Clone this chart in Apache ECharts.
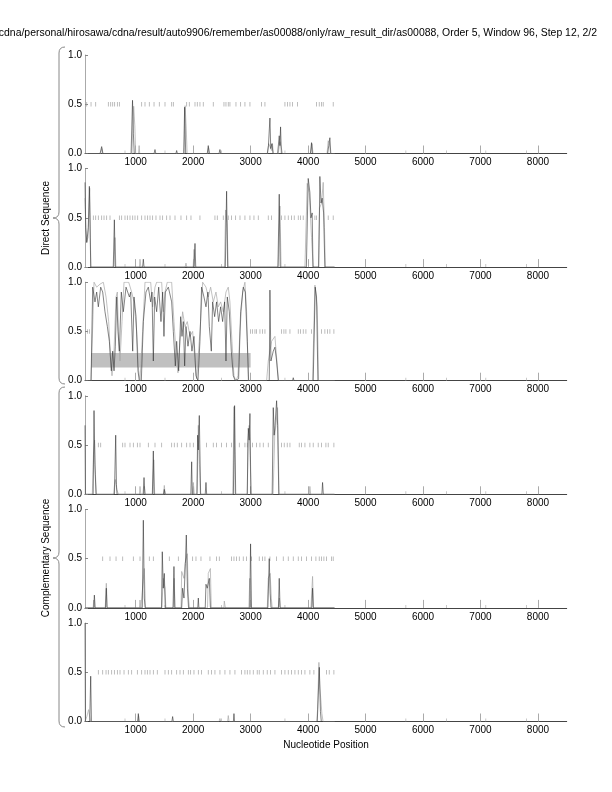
<!DOCTYPE html>
<html><head><meta charset="utf-8">
<script src="https://cdn.jsdelivr.net/npm/echarts@6/dist/echarts.min.js"></script>
<style>html,body{margin:0;padding:0;background:#fff}#c{width:612px;height:792px}</style>
</head><body><div id="c"></div>
<script>
var titleText = "/cdna/personal/hirosawa/cdna/result/auto9906/remember/as00088/only/raw_result_dir/as00088, Order 5, Window 96, Step 12, 2/2";
var xTicks = [1000,2000,3000,4000,5000,6000,7000,8000];
var yTicks = [0, 0.5, 1];
var baseMarks = [814,1510,2495,3597,5701,6409,7092,7800];

// Panel 1 (direct, frame 1)
var p1Black = [[118,0],[380,0],[408,0.07],[430,0],[920,0],[945,0.54],[960,0.2],[975,0],[1320,0],[1336,0.04],[1350,0],[1700,0],[1713,0.03],[1725,0],[1835,0],[1852,0.47],[1870,0],[2245,0],[2263,0.08],[2280,0],[2450,0],[2466,0.04],[2480,0],[3030,0],[3046,0.02],[3060,0],[3290,0],[3310,0.08],[3336,0.36],[3350,0.05],[3370,0.1],[3390,0],[3470,0],[3498,0.18],[3510,0.08],[3521,0.27],[3535,0],[4040,0],[4060,0.11],[4075,0],[4340,0],[4360,0.08],[4379,0.16],[4395,0],[4460,0]];
var p1Gray = [[118,0],[390,0],[410,0.05],[425,0],[935,0],[965,0.48],[985,0.28],[1000,0],[1050,0],[1060,0.08],[1070,0],[1845,0],[1860,0.485],[1880,0.25],[1895,0],[2255,0],[2268,0.06],[2285,0],[3295,0],[3315,0.1],[3345,0.12],[3365,0.03],[3380,0.1],[3395,0],[3480,0],[3510,0.12],[3540,0.1],[3555,0],[4045,0],[4068,0.1],[4085,0],[4330,0],[4350,0.13],[4370,0.1],[4390,0],[4460,0]];
var p1Stops = [148,223,304,524,565,600,634,681,716,1104,1162,1237,1319,1411,1510,1626,1655,1887,1933,2032,2072,2118,2176,2350,2536,2571,2611,2640,2745,2826,2901,2988,3191,3249,3597,3643,3684,3730,3817,4147,4194,4234,4263,4437];

// Panel 2
var p2Black = [[118,0.86],[130,0.4],[150,0.25],[175,0.4],[194,0.82],[205,0.5],[217,0],[610,0],[629,0.48],[645,0],[1120,0],[1133,0.08],[1145,0],[2015,0],[2032,0.24],[2045,0],[2560,0],[2582,0.77],[2600,0],[3475,0],[3498,0.74],[3515,0],[3970,0],[4002,0.9],[4031,0.76],[4050,0.5],[4071,0.55],[4085,0],[4185,0],[4205,0.92],[4225,0.65],[4245,0.7],[4270,0.55],[4292,0],[4460,0]];
var p2Gray = [[118,0.7],[140,0.25],[170,0.3],[190,0.6],[200,0.8],[210,0.3],[222,0],[620,0],[640,0.3],[655,0],[1065,0],[1075,0.08],[1090,0],[1860,0],[1875,0.04],[1890,0],[2000,0],[2015,0.18],[2030,0],[2545,0],[2565,0.58],[2590,0.45],[2610,0],[3480,0],[3510,0.62],[3530,0],[3945,0],[3985,0.85],[4020,0.75],[4060,0.3],[4089,0],[4180,0],[4200,0.6],[4235,0.65],[4263,0.86],[4285,0.4],[4300,0],[4460,0]];
var p2Stops = [263,304,350,408,449,495,553,716,756,814,855,901,948,988,1035,1104,1162,1208,1249,1295,1353,1423,1469,1539,1597,1684,1788,1887,1962,2118,2379,2420,2524,2611,2669,2739,2815,2901,2988,3058,3133,3307,3365,3539,3597,3655,3713,3759,3829,3869,3915,4118,4147,4350,4437];

// Panel 3
var p3Black = [[118,0],[223,0],[252,0.95],[292,0.8],[321,0.9],[350,0.75],[391,0.95],[426,0.9],[466,0.7],[507,0.55],[542,0.4],[576,0.1],[600,0.3],[623,0.1],[646,0.35],[669,0.85],[692,0.5],[716,0.3],[750,0.9],[785,0.7],[832,0.95],[890,0.85],[913,0.9],[948,0.3],[971,0.85],[1006,0.65],[1040,0.1],[1063,0],[1098,0],[1133,0.6],[1179,0.9],[1220,0.95],[1261,0.8],[1284,0.9],[1307,0.2],[1330,0.85],[1365,0.7],[1400,0.95],[1440,0.6],[1469,0.9],[1492,0.45],[1516,0.9],[1568,0.95],[1626,0.8],[1655,0.5],[1690,0.15],[1713,0.4],[1748,0.1],[1782,0.65],[1806,0.45],[1829,0.6],[1852,0.15],[1875,0.55],[1910,0.35],[1945,0.5],[1979,0.3],[2014,0.45],[2049,0.05],[2084,0],[2118,0.4],[2147,0.95],[2188,0.85],[2223,0.75],[2257,0.9],[2281,0.55],[2316,0.3],[2339,0.8],[2374,0.65],[2408,0.8],[2443,0.6],[2478,0.75],[2513,0.6],[2548,0.8],[2571,0.2],[2594,0.85],[2629,0.7],[2664,0.3],[2698,0.05],[2733,0],[2791,0.02],[2826,0.7],[2872,0.95],[2907,0.9],[2942,0.4],[2965,0],[3324,0],[3336,0.92],[3353,0.2],[3394,0.3],[3423,0.34],[3452,0.2],[3481,0],[3730,0],[3742,0.03],[3754,0],[4089,0],[4124,0.95],[4147,0.85],[4171,0],[4460,0]];
var p3Gray = [[118,0],[223,0],[275,1.0],[321,0.95],[379,0.98],[437,1.0],[484,0.85],[530,0.6],[565,0.2],[588,0.05],[623,0.3],[658,0.85],[681,0.9],[704,0.4],[727,0.2],[762,0.6],[797,1.0],[878,1.0],[930,0.9],[971,0.8],[1017,0.5],[1052,0.1],[1075,0],[1121,0.5],[1162,1.0],[1261,1.0],[1295,0.75],[1336,0.95],[1365,1.0],[1452,1.0],[1481,0.7],[1510,0.9],[1550,1.0],[1626,1.0],[1666,0.6],[1701,0.3],[1736,0.08],[1771,0.4],[1817,0.7],[1858,0.55],[1898,0.6],[1945,0.45],[1991,0.5],[2032,0.2],[2061,0.02],[2090,0],[2130,0.6],[2165,1.0],[2223,0.95],[2263,0.85],[2304,0.95],[2350,0.8],[2397,0.9],[2437,0.75],[2478,0.8],[2524,0.7],[2571,0.9],[2611,0.95],[2640,0.8],[2675,0.4],[2710,0.05],[2745,0],[2780,0.05],[2814,0.5],[2861,0.9],[2901,1.0],[2930,0.7],[2959,0],[3278,0],[3307,0.2],[3365,0.4],[3423,0.45],[3463,0.15],[3487,0],[4078,0],[4119,0.97],[4159,0.75],[4182,0],[4460,0]];
var p3Stops = [159,194,3000,3034,3075,3104,3162,3208,3249,3539,3579,3614,3684,3829,3869,3916,3962,4060,4234,4292,4339,4379,4449];
var p3Orf = [223, 3000, 0.135, 0.28];

// Panel 4 (complementary)
var p4Black = [[118,0.7],[125,0],[260,0],[275,0.85],[290,0.3],[310,0],[630,0],[652,0.6],[665,0.1],[675,0],[1130,0],[1145,0.17],[1160,0],[1290,0],[1307,0.44],[1320,0],[1485,0],[1498,0.05],[1510,0],[1960,0],[1974,0.33],[1985,0],[2065,0],[2078,0.6],[2090,0.45],[2107,0.8],[2130,0],[2210,0],[2223,0.12],[2235,0],[2700,0],[2721,0.9],[2740,0],[2940,0],[2960,0.67],[2975,0.55],[2988,0.82],[3005,0],[3375,0],[3394,0.88],[3410,0.6],[3425,0.7],[3452,0.95],[3470,0.7],[3490,0],[4240,0],[4252,0.12],[4265,0],[4460,0]];
var p4Gray = [[118,0],[245,0],[265,0.4],[285,0.55],[300,0.2],[315,0],[615,0],[632,0.1],[645,0.15],[670,0.05],[700,0],[1065,0],[1075,0.08],[1090,0],[1135,0],[1150,0.08],[1165,0],[1295,0],[1315,0.35],[1330,0],[1485,0],[1498,0.09],[1512,0],[1985,0],[2003,0.12],[2020,0],[2070,0],[2090,0.7],[2110,0.3],[2125,0],[2690,0],[2710,0.89],[2730,0],[2945,0],[2950,0.55],[2975,0.7],[2995,0.3],[3010,0],[3390,0],[3420,0.6],[3440,0.7],[3469,0.88],[3495,0],[4020,0],[4031,0.08],[4045,0],[4460,0]];
var p4Stops = [350,391,774,814,901,959,1029,1075,1220,1336,1452,1626,1672,1724,1800,1887,1945,2003,2234,2350,2408,2495,2582,2669,2803,2901,2942,3034,3104,3162,3220,3307,3539,3585,3637,3684,3846,3886,3945,4031,4089,4176,4234,4310,4350,4449];

// Panel 5
var p5Black = [[118,0],[270,0],[281,0.13],[295,0],[475,0],[489,0.2],[500,0],[1115,0],[1133,0.89],[1150,0.1],[1165,0],[1450,0],[1463,0.57],[1480,0.2],[1498,0.35],[1515,0],[1650,0],[1666,0.42],[1680,0],[1800,0],[1817,0.2],[1840,0.1],[1865,0.45],[1881,0.74],[1900,0.2],[1920,0],[2080,0],[2090,0.1],[2100,0],[2210,0],[2223,0.24],[2245,0.2],[2281,0.3],[2300,0],[2985,0],[2999,0.65],[3015,0],[3300,0],[3324,0.5],[3340,0.15],[3355,0],[3485,0],[3498,0.3],[3512,0],[4065,0],[4078,0.2],[4090,0],[4460,0]];
var p5Gray = [[118,0],[260,0],[270,0.08],[285,0],[470,0],[489,0.25],[505,0],[1065,0],[1075,0.08],[1090,0],[1120,0],[1150,0.4],[1170,0],[1455,0],[1480,0.3],[1510,0.2],[1525,0],[1655,0],[1670,0.3],[1685,0],[1790,0],[1800,0.37],[1840,0.3],[1858,0.45],[1898,0.55],[1916,0.12],[1935,0],[2250,0],[2263,0.35],[2300,0.4],[2315,0],[2535,0],[2542,0.07],[2560,0],[2970,0],[2985,0.3],[3005,0],[3290,0],[3307,0.3],[3340,0.35],[3360,0.1],[3375,0],[3480,0],[3500,0.1],[3515,0],[4050,0],[4078,0.32],[4095,0],[4460,0]];
var p5Stops = [426,553,658,774,959,1075,1237,1307,1585,1742,1991,2049,2136,2292,2408,2455,2669,2710,2756,2803,2872,2930,3017,3150,3208,3249,3336,3452,3568,3655,3742,3829,3887,3974,4060,4136,4194,4234,4275,4321,4408,4437];

// Panel 6
var p6Black = [[118,1.0],[125,0],[200,0],[217,0.46],[230,0],[1035,0],[1046,0.08],[1058,0],[1630,0],[1643,0.05],[1655,0],[2700,0],[2710,0.08],[2720,0],[4160,0],[4182,0.35],[4195,0.55],[4215,0.1],[4230,0],[4460,0]];
var p6Gray = [[118,0],[140,0],[150,0.05],[180,0.12],[200,0.1],[215,0],[1040,0],[1050,0.06],[1060,0],[2450,0],[2466,0.03],[2480,0],[2600,0],[2611,0.06],[2625,0],[4150,0],[4165,0.12],[4188,0.6],[4205,0.35],[4240,0.08],[4260,0],[4460,0]];
var p6Stops = [350,426,484,524,582,629,681,727,797,872,930,1029,1104,1162,1203,1249,1307,1376,1510,1568,1626,1713,1771,1829,1916,1956,2014,2090,2147,2263,2321,2379,2466,2553,2640,2727,2843,2901,2942,2988,3046,3115,3150,3220,3289,3347,3423,3539,3597,3655,3713,3771,3829,3887,3945,4031,4101,4321,4368,4449];

var blacks = [p1Black,p2Black,p3Black,p4Black,p5Black,p6Black];
var grays = [p1Gray,p2Gray,p3Gray,p4Gray,p5Gray,p6Gray];
var stops = [p1Stops,p2Stops,p3Stops,p4Stops,p5Stops,p6Stops];

var FONT = 'Liberation Sans, Arial, Helvetica, sans-serif';
var grids=[], xAxes=[], yAxes=[], series=[];
for (var i=0;i<6;i++){
  grids.push({left:85, width:481.7, top:55+i*113.6, height:98.5});
  xAxes.push({gridIndex:i, type:'value', min:118, max:8500,
    axisLine:{show:true, lineStyle:{color:'#444', width:1}},
    axisTick:{show:true, inside:true, length:8, lineStyle:{color:'#aaa', width:1}, customValues:xTicks},
    axisLabel:{customValues:xTicks, formatter:function(v){return String(v);}, fontSize:10, color:'#000', margin:4, fontFamily:FONT},
    splitLine:{show:false}});
  yAxes.push({gridIndex:i, type:'value', min:0, max:1,
    axisLine:{show:true, lineStyle:{color:'#aaa', width:1}},
    axisTick:{show:true, inside:true, length:3, lineStyle:{color:'#888'}, customValues:yTicks},
    axisLabel:{customValues:yTicks, formatter:function(v){return v.toFixed(1);}, fontSize:10, color:'#000', margin:3, fontFamily:FONT},
    splitLine:{show:false}});
  var g = {type:'line', xAxisIndex:i, yAxisIndex:i, data:grays[i], symbol:'none', lineStyle:{color:'#a8a8a8', width:0.7}, z:2};
  if (i===2){
    g.markArea = {silent:true, itemStyle:{color:'#c0c0c0'}, z:1,
      data:[[{xAxis:p3Orf[0], yAxis:p3Orf[2]},{xAxis:p3Orf[1], yAxis:p3Orf[3]}]]};
  }
  series.push(g);
  series.push({type:'line', xAxisIndex:i, yAxisIndex:i, data:blacks[i], symbol:'none', lineStyle:{color:'#333', width:0.6}, z:3});
  series.push({type:'scatter', xAxisIndex:i, yAxisIndex:i, data:stops[i].map(function(p){return [p,0.5];}),
    symbol:'rect', symbolSize:[0.8,4.5], itemStyle:{color:'#999'}, z:2});
  series.push({type:'scatter', xAxisIndex:i, yAxisIndex:i, data:baseMarks.map(function(p){return [p,0];}),
    symbol:'rect', symbolSize:[0.8,3], symbolOffset:[0,-1.5], itemStyle:{color:'#aaa'}, z:2});
}

function brace(top, tip, bottom){
  var st = {stroke:'#888', lineWidth:1, fill:null};
  return [
    {type:'bezierCurve', shape:{x1:65,y1:top,x2:59,y2:top+6,cpx1:59,cpy1:top}, style:st},
    {type:'line', shape:{x1:59,y1:top+6,x2:59,y2:tip-6}, style:st},
    {type:'bezierCurve', shape:{x1:59,y1:tip-6,x2:53,y2:tip,cpx1:59,cpy1:tip}, style:st},
    {type:'bezierCurve', shape:{x1:53,y1:tip,x2:59,y2:tip+6,cpx1:59,cpy1:tip}, style:st},
    {type:'line', shape:{x1:59,y1:tip+6,x2:59,y2:bottom-6}, style:st},
    {type:'bezierCurve', shape:{x1:59,y1:bottom-6,x2:65,y2:bottom,cpx1:59,cpy1:bottom}, style:st}
  ];
}

var graphic = [
  {type:'text', x:597, y:33, style:{text:titleText, font:'10.45px '+FONT, fill:'#000', textAlign:'right', textVerticalAlign:'middle'}},
  {type:'text', x:326, y:745, style:{text:'Nucleotide Position', font:'10px '+FONT, fill:'#000', textAlign:'center', textVerticalAlign:'middle'}},
  {type:'text', x:46, y:218, rotation:Math.PI/2, style:{text:'Direct Sequence', font:'10px '+FONT, fill:'#000', textAlign:'center', textVerticalAlign:'middle'}},
  {type:'text', x:46, y:558, rotation:Math.PI/2, style:{text:'Complementary Sequence', font:'10px '+FONT, fill:'#000', textAlign:'center', textVerticalAlign:'middle'}}
].concat(brace(47,218,384)).concat(brace(387,558,727));

var chart = echarts.init(document.getElementById('c'), null, {renderer:'canvas'});
chart.setOption({animation:false, backgroundColor:'#fff', grid:grids, xAxis:xAxes, yAxis:yAxes, series:series, graphic:graphic});
</script></body></html>
